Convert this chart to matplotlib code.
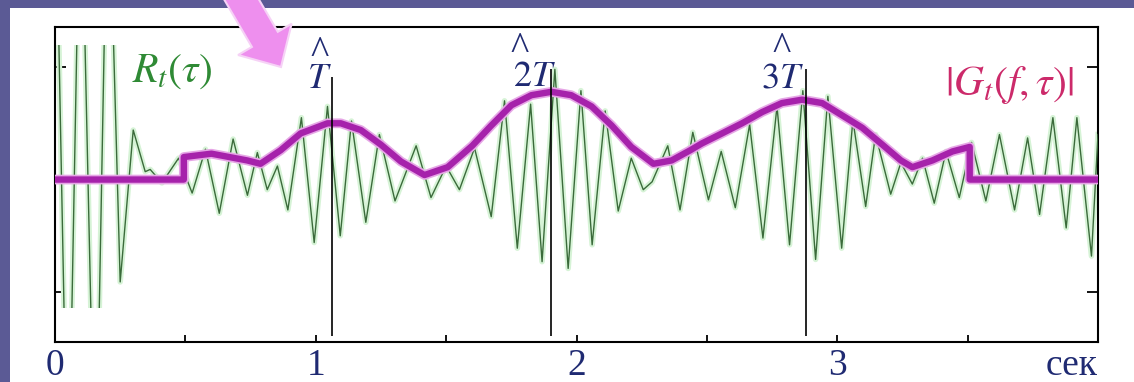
import matplotlib
matplotlib.use("Agg")
import matplotlib.pyplot as plt
import numpy as np
from matplotlib.patches import Rectangle, FancyArrow
from matplotlib.transforms import IdentityTransform, blended_transform_factory

# autocorrelation R_t(tau): peaks / troughs
# (the first big swings run off the drawn band and are clipped)
r_t = [0.000, 0.050, 0.098, 0.155, 0.203,
       0.250, 0.300, 0.346, 0.365,
       0.410, 0.474, 0.526, 0.577, 0.630, 0.683, 0.738, 0.776, 0.814, 0.853,
       0.893, 0.945, 0.994, 1.045, 1.094, 1.137, 1.192, 1.244, 1.304, 1.385,
       1.442, 1.500, 1.551, 1.609, 1.673, 1.724, 1.773, 1.824, 1.868, 1.917,
       1.968, 2.017, 2.060, 2.110, 2.160, 2.210, 2.256, 2.290, 2.350, 2.397,
       2.446, 2.506, 2.555, 2.609, 2.664, 2.715, 2.769, 2.817, 2.868, 2.917,
       2.964, 3.017, 3.060, 3.109, 3.147, 3.205, 3.244, 3.288, 3.327, 3.372,
       3.417, 3.468, 3.515, 3.570, 3.622, 3.680, 3.730, 3.776, 3.827, 3.878,
       3.919, 3.975, 4.000]
r_v = [3.0, -3.0, 3.0, -3.0, 3.0,
       -0.91, 0.44, 0.07, 0.09,
       -0.03, 0.19, -0.12, 0.27, -0.30, 0.36, -0.14, 0.24, -0.09, 0.12,
       -0.27, 0.55, -0.56, 0.65, -0.50, 0.52, -0.38, 0.40, -0.19, 0.30,
       -0.16, 0.12, -0.09, 0.28, -0.33, 0.70, -0.61, 0.67, -0.73, 0.98,
       -0.79, 0.79, -0.58, 0.61, -0.28, 0.19, -0.09, -0.02, 0.30, -0.27,
       0.42, -0.18, 0.25, -0.25, 0.49, -0.52, 0.65, -0.58, 0.79, -0.71,
       0.74, -0.61, 0.53, -0.24, 0.40, -0.13, 0.15, -0.04, 0.19, -0.21,
       0.25, -0.16, 0.33, -0.19, 0.40, -0.27, 0.37, -0.31, 0.55, -0.43,
       0.55, -0.68, 0.40]
r_clip = (-1.14, 1.20)

# envelope |G_t(f,tau)|
g_t = [0.000, 0.494, 0.494, 0.60, 0.737, 0.788, 0.865, 0.942, 1.045, 1.096,
       1.173, 1.250, 1.327, 1.417, 1.506, 1.600, 1.673, 1.750, 1.827, 1.904,
       1.980, 2.058, 2.135, 2.210, 2.295, 2.365, 2.436, 2.480, 2.558, 2.635,
       2.712, 2.788, 2.865, 2.942, 3.019, 3.096, 3.173, 3.244, 3.288, 3.365,
       3.442, 3.508, 3.508, 4.000]
g_v = [0.0, 0.0, 0.20, 0.23, 0.17, 0.14, 0.26, 0.41, 0.50, 0.50,
       0.44, 0.31, 0.16, 0.04, 0.11, 0.30, 0.48, 0.66, 0.75, 0.78,
       0.75, 0.65, 0.48, 0.29, 0.14, 0.17, 0.26, 0.32, 0.41, 0.50,
       0.60, 0.68, 0.71, 0.68, 0.57, 0.46, 0.31, 0.17, 0.11, 0.17,
       0.25, 0.29, 0.0, 0.0]

# period estimates T, 2T, 3T
marks = [1.062, 1.901, 2.881]
mark_tops = [0.91, 0.98, 0.98]
mark_labels = ["$T$", "$2T$", "$3T$"]

xticks = [0, 1, 2, 3]
xtick_labels = ["0", "1", "2", "3"]

plt.rcParams['mathtext.fontset'] = 'stix'
navy = '#1f2a72'

fig = plt.figure(figsize=(11.34, 3.82), dpi=100)
fig.patch.set_facecolor('#5b5a95')
fig.patches.append(Rectangle((10 / 1134, 0), 1, 374 / 382, transform=fig.transFigure,
                             fc='white', ec='none', zorder=-10))

ax = fig.add_axes([55 / 1134, 40 / 382, 1043 / 1134, 315 / 382])
ax.set_xlim(0, 4)
ax.set_ylim(-1.444, 1.356)

# green signal with faint glow, cut to the plotting band
band = Rectangle((0, r_clip[0]), 4, r_clip[1] - r_clip[0], transform=ax.transData)
glow, = ax.plot(r_t, r_v, color='#d6f3d6', lw=4, zorder=2, solid_joinstyle='round')
sig, = ax.plot(r_t, r_v, color='#3b6b3b', lw=1.0, zorder=3)
glow.set_clip_path(band)
sig.set_clip_path(band)

# magenta envelope
ax.plot(g_t, g_v, color='#e6a6e6', lw=7, zorder=4, solid_capstyle='butt')
ax.plot(g_t, g_v, color='#a622ab', lw=4.6, zorder=5, solid_capstyle='butt')

# vertical markers
for m, top in zip(marks, mark_tops):
    ax.vlines(m, -1.39, top, color='black', lw=1.2, zorder=6)

# labels
ax.text(0.449, 0.97, r'$R_t(\tau)$', color='#2f8a35', fontsize=30,
        ha='center', va='center')
ax.text(3.66, 0.84, r'$|G_t(f,\tau)|$', color='#cc2a6a', fontsize=30,
        ha='center', va='center')
lab_pos = [(1.016, 0.90), (1.837, 0.92), (2.79, 0.905)]
hat_pos = [(1.016, 1.03), (1.783, 1.06), (2.788, 1.06)]
for lab, (lx, ly), (hx, hy) in zip(mark_labels, lab_pos, hat_pos):
    ax.text(lx, ly, lab, color=navy, fontsize=26, ha='center', va='center')
    ax.text(hx, hy, '^', color=navy, fontsize=28, family='Liberation Serif',
            ha='center', va='baseline')

# axes styling
for s in ax.spines.values():
    s.set_linewidth(1.5)
ax.set_yticks([-1, 1])
ax.set_yticklabels([])
ax.tick_params(axis='y', direction='in', length=8, width=1.3, left=True, right=True)
ax.set_xticks(xticks)
ax.set_xticks([0.5, 1.5, 2.5, 3.5], minor=True)
ax.set_xticklabels(xtick_labels, family='Liberation Serif', fontsize=27, color=navy)
ax.tick_params(axis='x', which='both', direction='in', length=5, width=1.3, pad=5)

tr = blended_transform_factory(ax.transData, ax.transAxes)
ax.text(3.90, -0.105, 'сек', transform=tr, family='Liberation Serif', fontsize=27,
        color=navy, ha='center', va='baseline', clip_on=False)

# pink pointer arrow
fig.patches.append(FancyArrow(236, 392, 45, -77, width=30, head_width=62, head_length=32,
                              length_includes_head=True, fc='#ee8fee', ec='#f6d2f6',
                              lw=1.5, transform=IdentityTransform(), zorder=10))

fig.savefig('out.png', dpi=100, facecolor=fig.get_facecolor())
